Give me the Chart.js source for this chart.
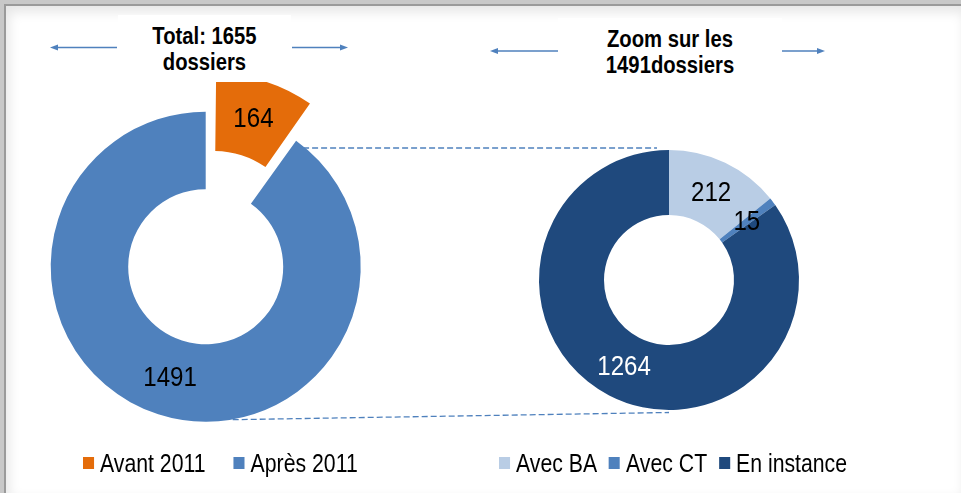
<!DOCTYPE html>
<html>
<head>
<meta charset="utf-8">
<script src="https://cdn.jsdelivr.net/npm/chart.js@4.4.1/dist/chart.umd.min.js"></script>
<style>
html, body { margin: 0; padding: 0; background: #fff; }
#page { position: relative; width: 961px; height: 493px; overflow: hidden; background: #c8c8c8;
  font-family: 'Liberation Sans', Arial, sans-serif; color: #000; }
#frame { position: absolute; left: 4px; top: 4px; right: 0; bottom: 0; background: #fff;
  border-top: 2px solid #9a9a9a; border-left: 2px solid #9a9a9a;
  box-shadow: inset 3px 6px 12px rgba(0,0,0,0.10); }
canvas { position: absolute; top: 0; }
.title { position: absolute; background: #fff; text-align: center; font-weight: bold;
  font-size: 23px; line-height: 26px; box-sizing: border-box; }
.title .t { transform: scaleX(0.88); transform-origin: 50% 0; }
#arrows { position: absolute; left: 0; top: 0; }
.legend { position: absolute; top: 450px; display: flex; font-size: 25px; line-height: 26px;
  white-space: nowrap; transform: scaleX(0.85); transform-origin: 0 0; }
.legend .item { display: flex; align-items: center; }
.legend .box { display: inline-block; width: 13px; height: 12px; margin-right: 7px; }
</style>
</head>
<body>
<div id="page">
  <div id="frame"></div>
  <canvas id="leftChart" width="1001" height="493"></canvas>
  <canvas id="rightChart" width="961" height="493"></canvas>
  <div class="title" style="left:118px;top:15px;width:173px;height:67px;padding-top:8px;"><div class="t">Total: 1655<br>dossiers</div></div>
  <div class="title" style="left:558px;top:18px;width:224px;height:68px;padding-top:8px;"><div class="t">Zoom sur les<br>1491dossiers</div></div>
  <svg id="arrows" width="961" height="493">
    <g stroke="#4f81bd" stroke-width="1.5" fill="#4f81bd">
      <line x1="117" y1="47.5" x2="56" y2="47.5"/>
      <polygon points="50,47.5 58,44.5 58,50.5" stroke="none"/>
      <line x1="292" y1="47.5" x2="342" y2="47.5"/>
      <polygon points="348,47.5 340,44.5 340,50.5" stroke="none"/>
      <line x1="558" y1="51" x2="496" y2="51"/>
      <polygon points="490,51 498,48 498,54" stroke="none"/>
      <line x1="782" y1="51" x2="819" y2="51"/>
      <polygon points="825,51 817,48 817,54" stroke="none"/>
    </g>
  </svg>
  <div class="legend" id="leftLegend" style="left:83px;"></div>
  <div class="legend" id="rightLegend" style="left:499px;"></div>
</div>
<script>
// left donut: all files
const leftLabels = ['Avant 2011', 'Après 2011'];
const leftValues = [164, 1491];
const leftColors = ['#e46c0a', '#4f81bd'];
const leftTextColors = ['#000', '#000'];
const leftExplode = [112, 0];

// right donut: zoom on the 1491 files
const rightLabels = ['Avec BA', 'Avec CT', 'En instance'];
const rightValues = [212, 15, 1264];
const rightColors = ['#b9cde5', '#4f81bd', '#1f497d'];
const rightTextColors = ['#000', '#000', '#fff'];

const LEFT_SHIFT = 40;
document.getElementById('leftChart').style.left = (-LEFT_SHIFT) + 'px';

// value labels in the middle of each ring slice
const sliceLabels = {
    id: 'sliceLabels',
    afterDatasetsDraw(chart) {
        const ctx = chart.ctx;
        const ds = chart.data.datasets[0];
        const meta = chart.getDatasetMeta(0);
        ctx.save();
        ctx.font = '28px "Liberation Sans", Arial, sans-serif';
        ctx.textAlign = 'center';
        ctx.textBaseline = 'middle';
        meta.data.forEach((arc, i) => {
            const p = arc.getProps(['x', 'y', 'startAngle', 'endAngle', 'innerRadius', 'outerRadius']);
            const mid = (p.startAngle + p.endAngle) / 2;
            const off = (ds.offset ? ds.offset[i] : 0) / 4;
            const fix = 1 - Math.sin(Math.min(Math.PI, p.endAngle - p.startAngle));
            const r = (p.innerRadius + p.outerRadius) / 2 + off * (1 + fix);
            ctx.save();
            ctx.translate(p.x + Math.cos(mid) * r, p.y + Math.sin(mid) * r + 1);
            ctx.scale(0.86, 1);
            ctx.fillStyle = ds.textColors[i];
            ctx.fillText(String(ds.data[i]), 0, 0);
            ctx.restore();
        });
        ctx.restore();
    }
};

var leftChart = new Chart(document.getElementById('leftChart'), {
    type: 'doughnut',
    data: {
        labels: leftLabels,
        datasets: [{
            data: leftValues,
            backgroundColor: leftColors,
            borderWidth: 0,
            offset: leftExplode,
            hoverOffset: 0,
            textColors: leftTextColors
        }]
    },
    options: {
        responsive: false,
        animation: false,
        events: [],
        cutout: '50%',
        layout: { padding: { left: 34.7, right: 544.3, top: 55.7, bottom: 15.3 } },
        plugins: { legend: { display: false }, tooltip: { enabled: false } }
    },
    plugins: [sliceLabels]
});

// dashed connectors between the two donuts
const connectors = {
    id: 'connectors',
    afterDatasetsDraw(chart) {
        const ctx = chart.ctx;
        const big = leftChart.getDatasetMeta(0).data[1].getProps(['x', 'y', 'startAngle', 'outerRadius']);
        const small = chart.getDatasetMeta(0).data[0].getProps(['x', 'y', 'outerRadius']);
        const bx = big.x - LEFT_SHIFT, by = big.y, R = big.outerRadius;
        ctx.save();
        ctx.strokeStyle = '#4f81bd';
        ctx.lineWidth = 1.3;
        ctx.setLineDash([6, 3]);
        ctx.beginPath();
        ctx.moveTo(bx + Math.cos(big.startAngle) * R + 7, small.y - small.outerRadius - 2);
        ctx.lineTo(small.x - 12, small.y - small.outerRadius - 2);
        ctx.moveTo(bx + 27, by + R - 2);
        ctx.lineTo(small.x, small.y + small.outerRadius + 2.5);
        ctx.stroke();
        ctx.restore();
    }
};

var rightChart = new Chart(document.getElementById('rightChart'), {
    type: 'doughnut',
    data: {
        labels: rightLabels,
        datasets: [{
            data: rightValues,
            backgroundColor: rightColors,
            borderWidth: 0,
            hoverOffset: 0,
            textColors: rightTextColors
        }]
    },
    options: {
        responsive: false,
        animation: false,
        events: [],
        cutout: '50%',
        layout: { padding: { left: 539, right: 162, top: 150, bottom: 83 } },
        plugins: { legend: { display: false }, tooltip: { enabled: false } }
    },
    plugins: [sliceLabels, connectors]
});

// legends built from the same arrays (gaps are pre-scale)
function buildLegend(id, labels, colors, gap) {
    var str = '';
    labels.forEach((l, i) => {
        let mr = i < labels.length - 1 ? `margin-right:${gap}px;` : '';
        str += `<span class="item" style="${mr}"><span class="box" style="background:${colors[i]}"></span>${l}</span>`;
    });
    document.getElementById(id).innerHTML = str;
}
buildLegend('leftLegend', leftLabels, leftColors, 33);
buildLegend('rightLegend', rightLabels, rightColors, 14);
</script>
</body>
</html>
